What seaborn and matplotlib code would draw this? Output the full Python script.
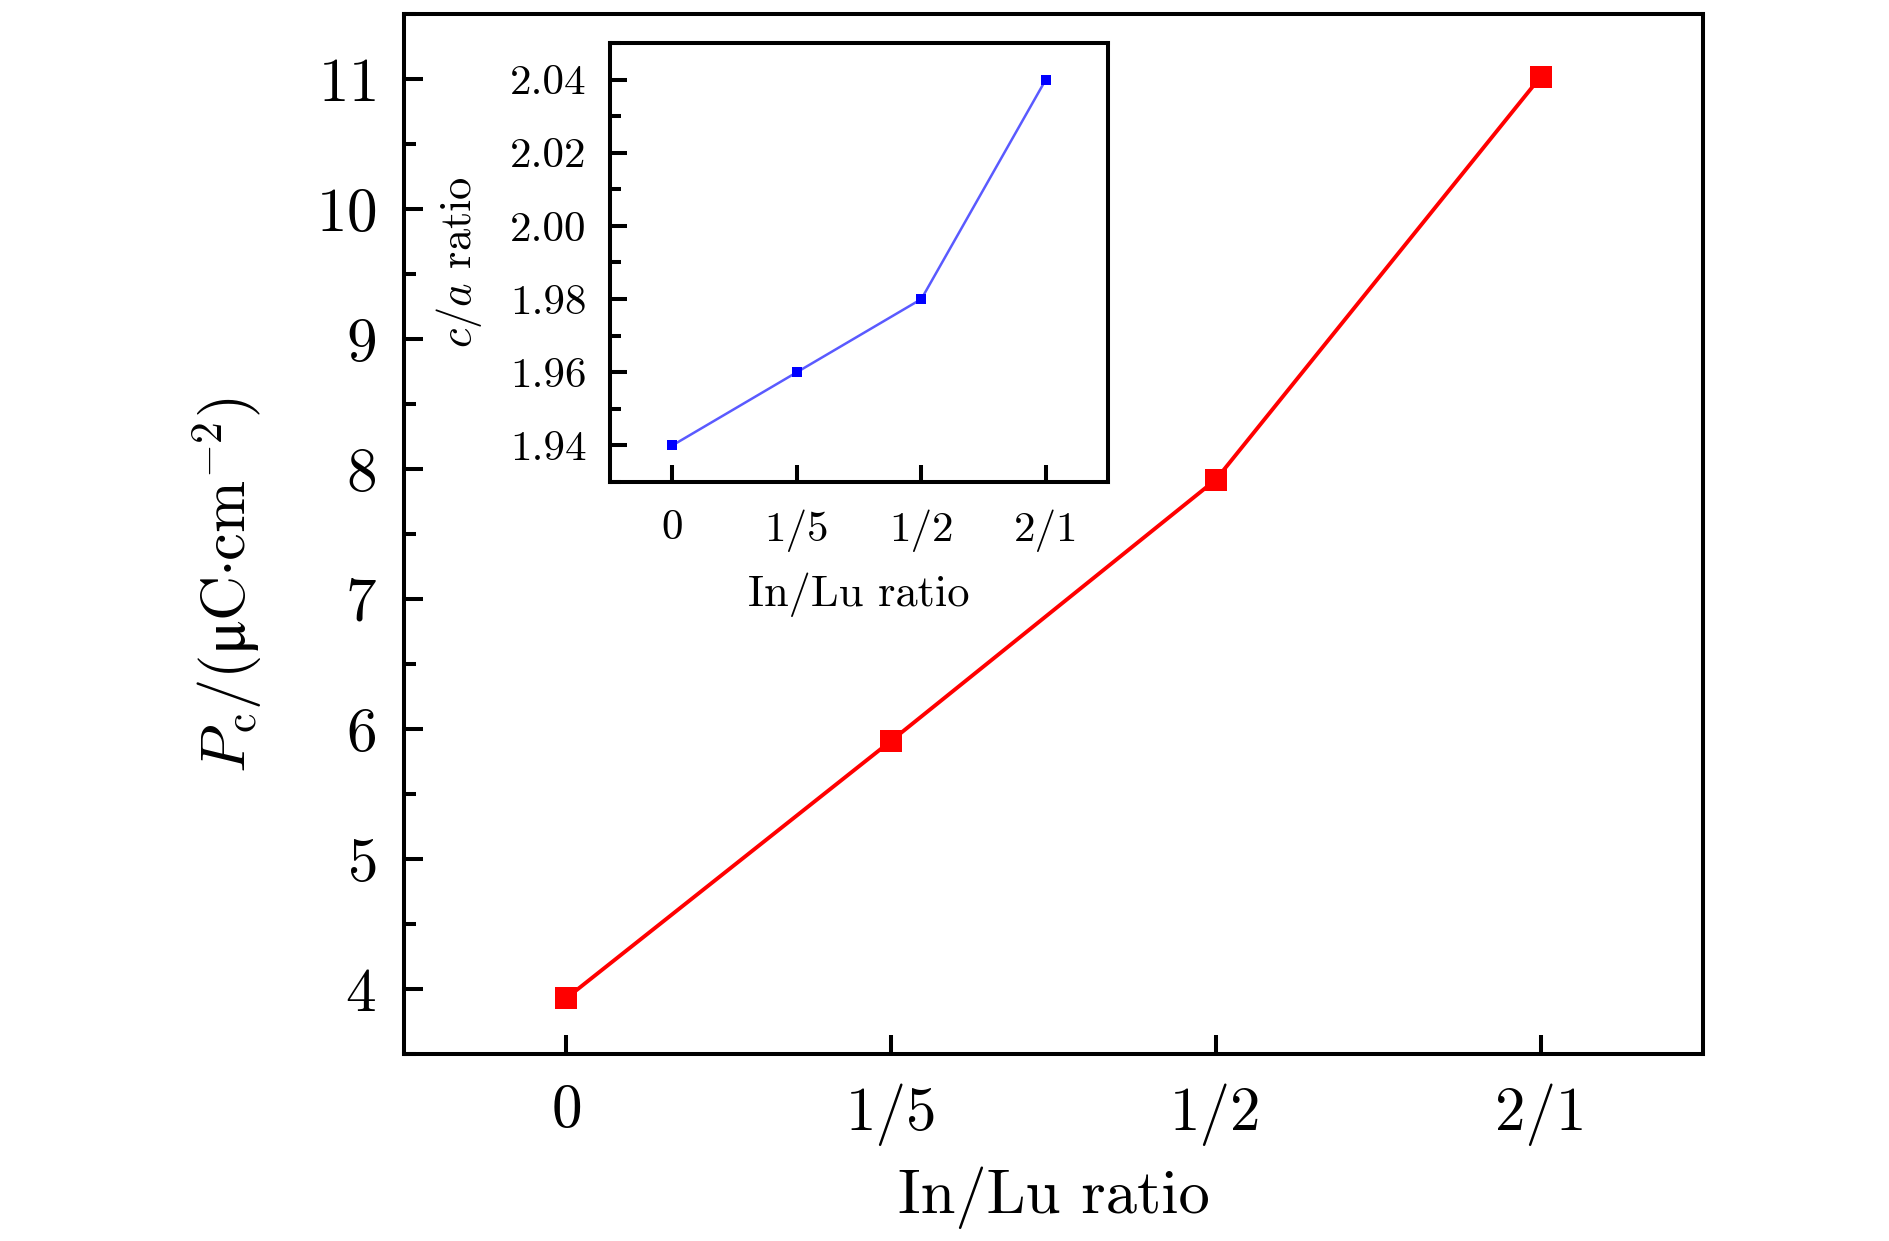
import numpy as np
import pandas as pd
import seaborn as sns
import matplotlib.pyplot as plt
from matplotlib.ticker import MultipleLocator, FormatStrFormatter

# data
ratio_labels = ["0", "1/5", "1/2", "2/1"]
pc_values = [3.93, 5.91, 7.92, 11.02]
ca_values = [1.94, 1.96, 1.98, 2.04]

sns.set_style("ticks")
plt.rcParams["font.family"] = ["cmr10", "DejaVu Serif"]
plt.rcParams["mathtext.fontset"] = "cm"
plt.rcParams["axes.unicode_minus"] = False
plt.rcParams["axes.formatter.use_mathtext"] = True
for key in ["text.color", "axes.labelcolor", "xtick.color", "ytick.color",
            "axes.edgecolor"]:
    plt.rcParams[key] = "black"

df = pd.DataFrame({"pos": np.arange(len(ratio_labels)),
                   "pc": pc_values, "ca": ca_values})

fig = plt.figure(figsize=(18.9, 12.41), dpi=100)
ax = fig.add_axes([0.2138, 0.1507, 0.6873, 0.8378])
ins = fig.add_axes([0.3228, 0.6116, 0.2635, 0.3538])

# main plot
sns.lineplot(data=df, x="pos", y="pc", ax=ax, color="#ff0000", lw=2.8,
             marker="s", markersize=16, markeredgewidth=0)
ax.set_xlim(-0.5, 3.5)
ax.set_ylim(3.5, 11.5)
ax.set_xticks(df["pos"])
ax.set_xticklabels(ratio_labels)
ax.yaxis.set_major_locator(MultipleLocator(1))
ax.yaxis.set_minor_locator(MultipleLocator(0.5))
ax.tick_params(axis="both", which="both", direction="in", width=2.9,
               top=False, right=False, labelsize=44)
ax.tick_params(axis="both", which="major", length=13.5)
ax.tick_params(axis="y", which="minor", length=8.5)
ax.tick_params(axis="y", pad=20)
ax.tick_params(axis="x", pad=21)
ax.set_xlabel("In/Lu ratio", fontsize=45, va="top")
ax.set_ylabel(r"$P_{\mathrm{c}}/(\mathrm{μC·cm}^{-2})$", fontsize=45)
ax.xaxis.set_label_coords(0.5, -0.108)
ax.yaxis.set_label_coords(-0.107, 0.451)
for sp in ax.spines.values():
    sp.set_linewidth(2.9)

# inset
sns.lineplot(data=df, x="pos", y="ca", ax=ins, color="#5a5aff", lw=1.8,
             marker="s", markersize=6.5, markeredgewidth=0,
             markerfacecolor="#0000ff")
ins.set_xlim(-0.5, 3.5)
ins.set_ylim(1.93, 2.05)
ins.set_xticks(df["pos"])
ins.set_xticklabels(ratio_labels)
ins.yaxis.set_major_locator(MultipleLocator(0.02))
ins.yaxis.set_minor_locator(MultipleLocator(0.01))
ins.yaxis.set_major_formatter(FormatStrFormatter("%.2f"))
ins.tick_params(axis="both", which="both", direction="in", width=2.9,
                top=False, right=False, labelsize=31)
ins.tick_params(axis="both", which="major", length=12)
ins.tick_params(axis="y", which="minor", length=8)
ins.tick_params(axis="y", pad=17)
ins.tick_params(axis="x", pad=20)
ins.set_xlabel("In/Lu ratio", fontsize=32, va="top")
ins.set_ylabel(r"$c/a$ ratio", fontsize=32)
ins.xaxis.set_label_coords(0.5, -0.205)
ins.yaxis.set_label_coords(-0.253, 0.5)
for sp in ins.spines.values():
    sp.set_linewidth(2.9)

fig.savefig("out.png", dpi=100, facecolor="white")
